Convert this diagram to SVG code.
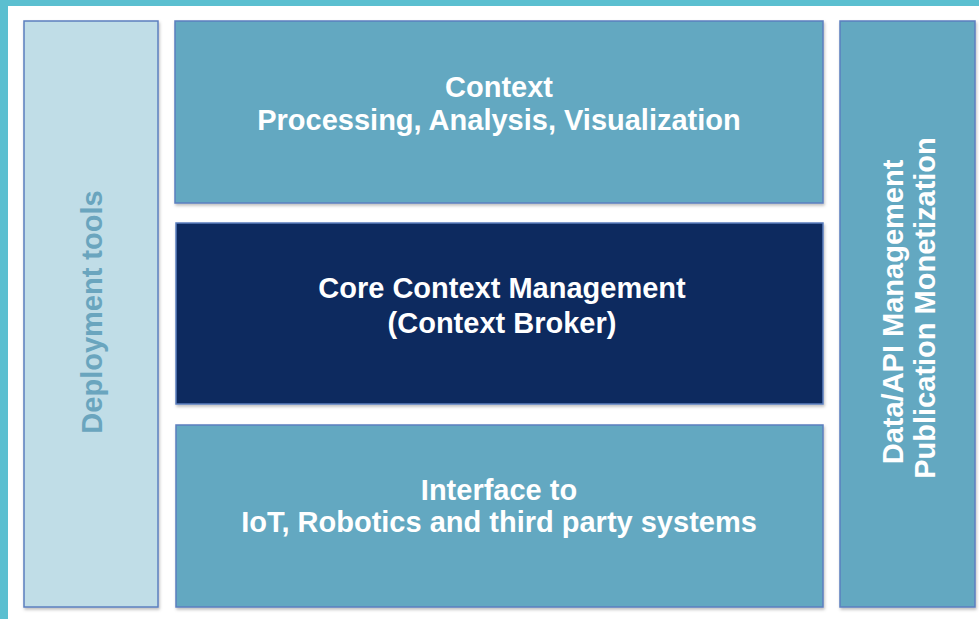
<svg xmlns="http://www.w3.org/2000/svg" width="979" height="619" viewBox="0 0 979 619">
<defs>
<filter id="sh" x="-5%" y="-5%" width="110%" height="110%">
<feDropShadow dx="1" dy="2" stdDeviation="1.5" flood-color="#000" flood-opacity="0.25"/>
</filter>
</defs>
<style>
.box{stroke:#5b7fbf;stroke-width:1.5;filter:url(#sh)}
.mid{fill:#63a8c1}
.t{font-family:"Liberation Sans",Arial,sans-serif;font-weight:bold;font-size:29px;fill:#ffffff;text-anchor:middle}
</style>
<rect x="0" y="0" width="979" height="619" fill="#ffffff"/>
<rect x="0" y="0" width="979" height="6" fill="#5bbfd0"/>
<rect x="0" y="0" width="8" height="619" fill="#5bbfd0"/>
<g id="deployment">
<rect class="box" x="24" y="21" width="134" height="586" fill="#c0dde7"/>
<text class="t" transform="translate(102,312) rotate(-90)" style="fill:#6aa5be">Deployment tools</text>
</g>
<g id="context">
<rect class="box mid" x="175" y="21" width="648" height="182"/>
<text class="t" x="499" y="97">Context</text>
<text class="t" x="499" y="130">Processing, Analysis, Visualization</text>
</g>
<g id="core">
<rect class="box" x="176" y="223" width="647" height="181" fill="#0c2a5e"/>
<text class="t" x="502" y="298">Core Context Management</text>
<text class="t" x="502" y="333">(Context Broker)</text>
</g>
<g id="interface">
<rect class="box mid" x="176" y="425" width="647" height="182"/>
<text class="t" x="499" y="500">Interface to</text>
<text class="t" x="499" y="532">IoT, Robotics and third party systems</text>
</g>
<g id="dataapi">
<rect class="box mid" x="840" y="21" width="135" height="586"/>
<text class="t" transform="translate(903,312) rotate(-90)">Data/API Management</text>
<text class="t" transform="translate(935,308) rotate(-90)">Publication Monetization</text>
</g>
<g id="connectors"></g>
</svg>
